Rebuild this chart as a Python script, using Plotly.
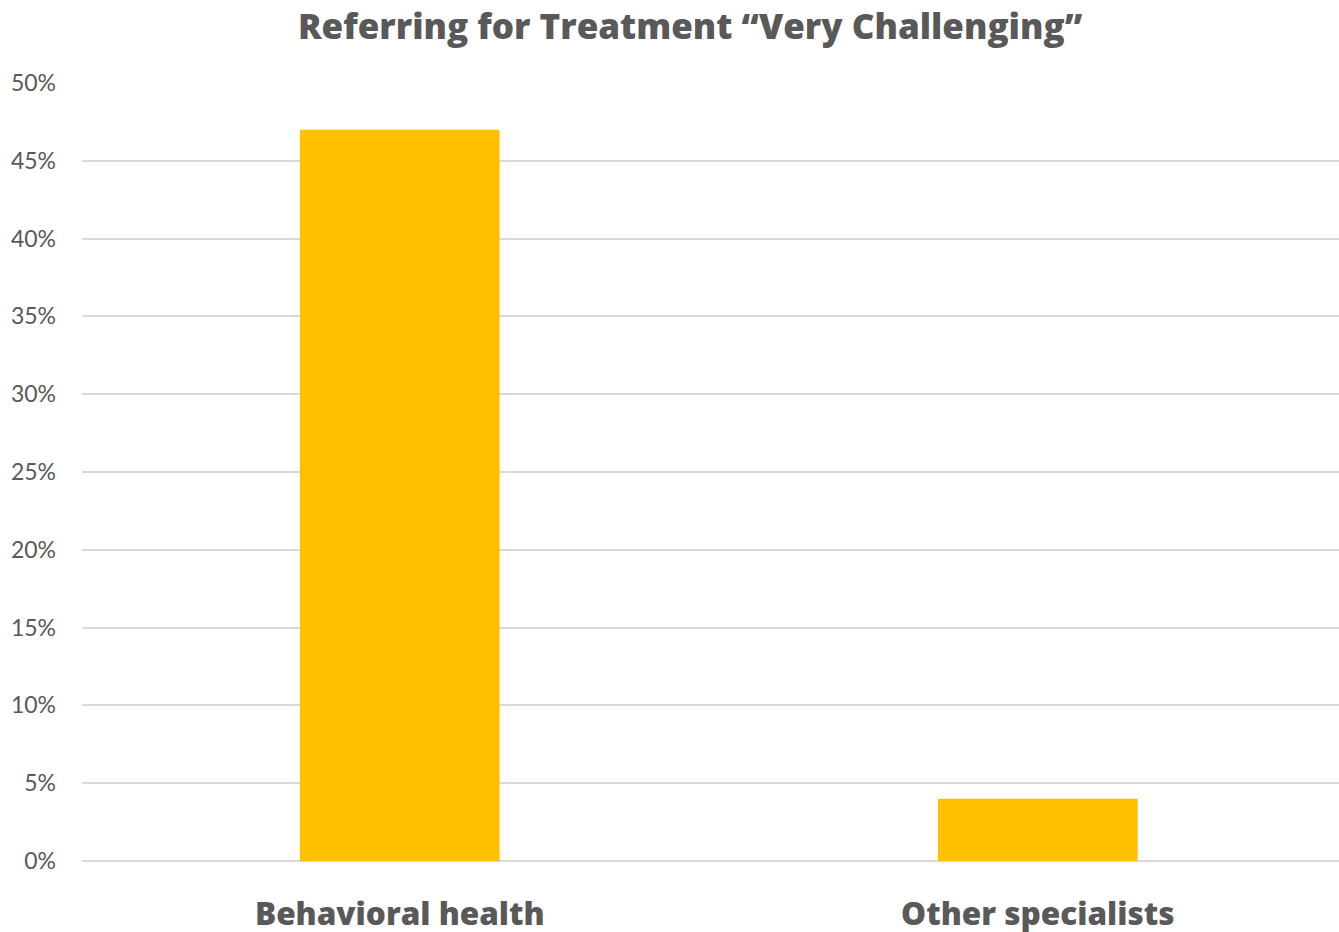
import plotly.graph_objects as go

categories = ["Behavioral health", "Other specialists"]
values = [47, 4]
tick_vals = [0, 5, 10, 15, 20, 25, 30, 35, 40, 45, 50]

TEXT = "#595959"
BOLD_FONT = "Open Sans"
TICK_FONT = "Lato"

fig = go.Figure(
    go.Bar(
        x=[0, 1],
        y=values,
        width=0.313,
        marker=dict(color="#FFC000", line=dict(width=0)),
        hoverinfo="skip",
    )
)

fig.update_layout(
    width=1339,
    height=932,
    margin=dict(l=82, r=0, t=83, b=71),
    paper_bgcolor="white",
    plot_bgcolor="white",
    showlegend=False,
    title=dict(
        text="Referring for Treatment “Very Challenging”",
        x=690 / 1339,
        xref="container",
        xanchor="center",
        y=1 - 27 / 932,
        yref="container",
        yanchor="middle",
        font=dict(family=BOLD_FONT, size=35, color=TEXT, weight=800),
    ),
)

fig.update_xaxes(
    range=[-0.498, 1.472],
    tickmode="array",
    tickvals=[0, 1],
    ticktext=categories,
    tickfont=dict(family=BOLD_FONT, size=31.5, color=TEXT, weight=800),
    showgrid=False,
    zeroline=False,
    showline=False,
    ticks="",
    ticklabelstandoff=31,
    automargin=False,
)

fig.update_yaxes(
    range=[0, 50],
    tickmode="array",
    tickvals=tick_vals,
    ticktext=[f"{v}%" for v in tick_vals],
    tickfont=dict(family=TICK_FONT, size=23, color=TEXT),
    showgrid=True,
    gridcolor="#D9D9D9",
    gridwidth=1.5,
    zeroline=True,
    zerolinecolor="#D9D9D9",
    zerolinewidth=1.5,
    showline=False,
    ticks="",
    ticklabelstandoff=25,
    automargin=False,
)

fig.write_html("out.html")
